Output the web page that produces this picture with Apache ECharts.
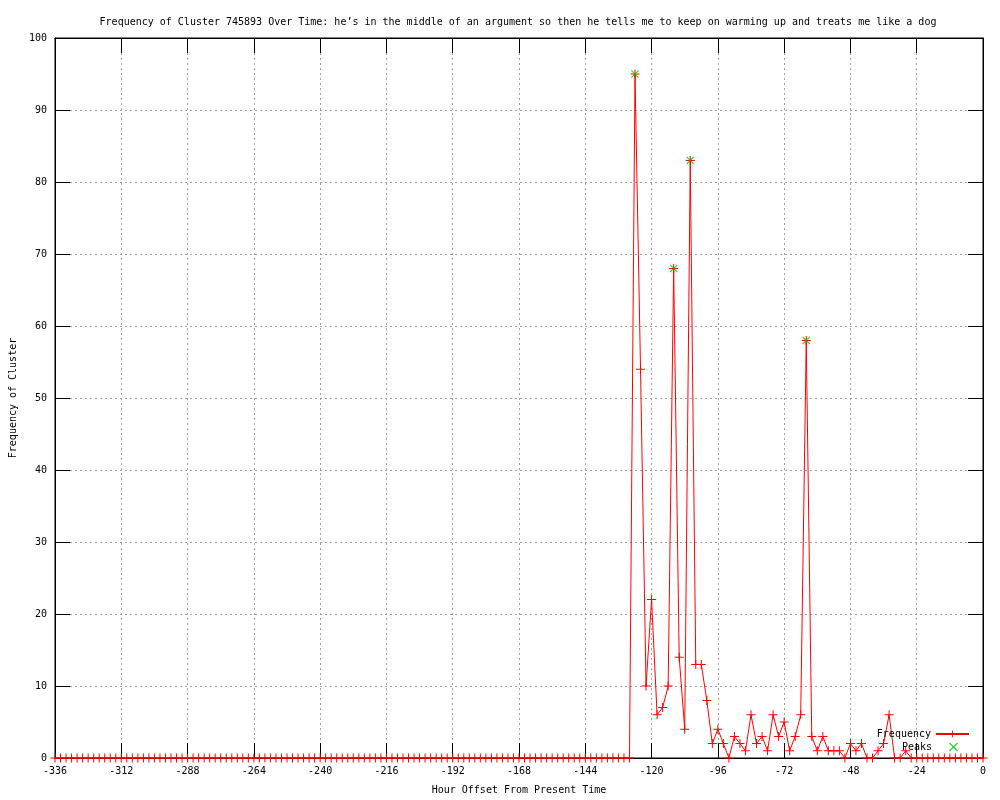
<!DOCTYPE html>
<html>
<head>
<meta charset="utf-8">
<title>Frequency of Cluster 745893</title>
<script src="https://cdn.jsdelivr.net/npm/echarts@6/dist/echarts.min.js"></script>
<style>
  html, body { margin: 0; padding: 0; background: #fff; }
  #chart { width: 1000px; height: 800px; }
</style>
</head>
<body>
<div id="chart"></div>
<script>
// hours before now, sampled every 2 hours from -336 to 0
const hourStart = -336;
const hourStep = 2;

// frequency per sample (-336 ... 0)
const freqQuiet = [
  0,0,0,0,0,0,0,0,0,0, 0,0,0,0,0,0,0,0,0,0,
  0,0,0,0,0,0,0,0,0,0, 0,0,0,0,0,0,0,0,0,0,
  0,0,0,0,0,0,0,0,0,0, 0,0,0,0,0,0,0,0,0,0,
  0,0,0,0,0,0,0,0,0,0, 0,0,0,0,0,0,0,0,0,0,
  0,0,0,0,0,0,0,0,0,0, 0,0,0,0,0,0,0,0,0,0,
  0,0,0,0
];                                   // -336 .. -130
const freqActive = [
  0, 95, 54, 10, 22, 6, 7, 10, 68, 14,   // -128 .. -110
  4, 83, 13, 13, 8, 2, 4, 2, 0, 3,       // -108 .. -90
  2, 1, 6, 2, 3, 1, 6, 3, 5, 1,          // -88 .. -70
  3, 6, 58, 3, 1, 3, 1, 1, 1, 0,         // -68 .. -50
  2, 1, 2, 0, 0, 1, 2, 6, 0, 0,          // -48 .. -30
  1, 0, 0, 0, 0, 0, 0, 0, 0, 0,          // -28 .. -10
  0, 0, 0, 0, 0                          // -8 .. 0
];

const peakHours = [-126, -112, -106, -64];
const peakValues = [95, 68, 83, 58];

const xTicks = { min: -336, max: 0, interval: 24 };
const yTicks = { min: 0, max: 100, interval: 10 };

const titleText = 'Frequency of Cluster 745893 Over Time: he\u2019s in the middle of an argument so then he tells me to keep on warming up and treats me like a dog';

const freq = freqQuiet.concat(freqActive);
const freqData = freq.map((v, i) => [hourStart + i * hourStep, v]);
const peakData = peakHours.map((h, i) => [h, peakValues[i]]);

const FONT = 'DejaVu Sans Mono';
const plusPath = 'path://M4,0h1v4h4v1h-4v4h-1v-4h-4v-1h4z';
const crossPath = 'path://M0,0.8L0.8,0L4,3.2L7.2,0L8,0.8L4.8,4L8,7.2L7.2,8L4,4.8L0.8,8L0,7.2L3.2,4Z';

const gridDash = { color: '#a0a0a0', type: [2, 3], width: 1 };
const tickStyle = { show: true, inside: true, length: 15, lineStyle: { color: '#000', width: 1 } };
const borderLine = { show: true, onZero: false, lineStyle: { color: '#000', width: 1 } };

let chart = echarts.init(document.getElementById('chart'), null, { renderer: 'canvas' });

var option = {
  animation: false,
  backgroundColor: '#fff',
  textStyle: { fontFamily: FONT },
  title: {
    text: titleText,
    left: 513,
    textAlign: 'center',
    top: 12,
    textStyle: { fontFamily: FONT, fontSize: 10, fontWeight: 'normal', color: '#000' }
  },
  grid: {
    left: 55, right: 17, top: 38, bottom: 40,
    show: true, borderColor: '#000', borderWidth: 1
  },
  legend: [
    {
      data: ['Frequency'],
      right: 30, top: 729, padding: 0,
      align: 'right',
      itemWidth: 33, itemHeight: 9,
      textStyle: { fontFamily: FONT, fontSize: 10, color: '#000' }
    },
    {
      data: ['Peaks'],
      right: 42, top: 742, padding: 0,
      align: 'right',
      itemWidth: 33, itemHeight: 9,
      textStyle: { fontFamily: FONT, fontSize: 10, color: '#000' }
    }
  ],
  xAxis: [
    {
      type: 'value', position: 'bottom',
      min: xTicks.min, max: xTicks.max, interval: xTicks.interval,
      name: 'Hour Offset From Present Time',
      nameLocation: 'middle', nameGap: 27,
      nameTextStyle: { fontFamily: FONT, fontSize: 10, color: '#000' },
      axisLine: borderLine,
      axisTick: tickStyle,
      axisLabel: { fontFamily: FONT, fontSize: 10, color: '#000', margin: 8 },
      splitLine: { show: true, lineStyle: gridDash }
    },
    {
      type: 'value', position: 'top',
      min: xTicks.min, max: xTicks.max, interval: xTicks.interval,
      axisLine: borderLine,
      axisTick: tickStyle,
      axisLabel: { show: false },
      splitLine: { show: false }
    }
  ],
  yAxis: [
    {
      type: 'value', position: 'left',
      min: yTicks.min, max: yTicks.max, interval: yTicks.interval,
      name: 'Frequency of Cluster',
      nameLocation: 'middle', nameGap: 37, nameRotate: 90,
      nameTextStyle: { fontFamily: FONT, fontSize: 10, color: '#000' },
      axisLine: borderLine,
      axisTick: tickStyle,
      axisLabel: { fontFamily: FONT, fontSize: 10, color: '#000', margin: 8 },
      splitLine: { show: true, lineStyle: gridDash }
    },
    {
      type: 'value', position: 'right',
      min: yTicks.min, max: yTicks.max, interval: yTicks.interval,
      axisLine: borderLine,
      axisTick: tickStyle,
      axisLabel: { show: false },
      splitLine: { show: false }
    }
  ],
  series: [
    {
      name: 'Frequency',
      type: 'line',
      data: freqData,
      xAxisIndex: 0, yAxisIndex: 0,
      symbol: plusPath, symbolSize: 9,
      showAllSymbol: true,
      itemStyle: { color: '#ff0000' },
      lineStyle: { color: '#ff0000', width: 1 },
      z: 3
    },
    {
      name: 'Peaks',
      type: 'scatter',
      data: peakData,
      xAxisIndex: 0, yAxisIndex: 0,
      symbol: crossPath, symbolSize: 8,
      itemStyle: { color: '#00c000' },
      z: 4
    }
  ]
};
chart.setOption(option);
</script>
</body>
</html>
